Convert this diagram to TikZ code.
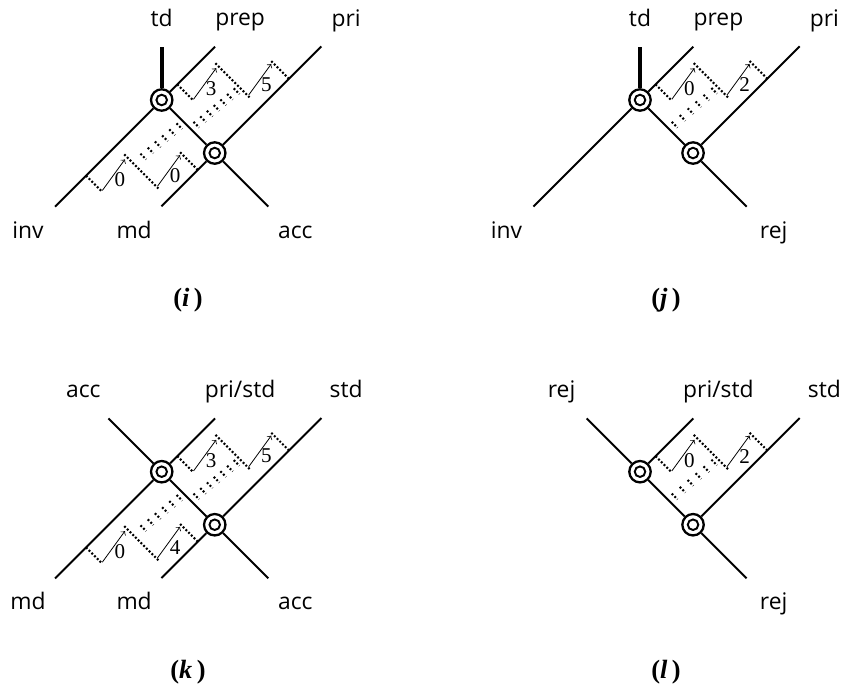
\documentclass[tikz,border=0pt]{standalone}
\usepackage{fontspec}
\newfontfamily\labelfont{Open Sans}
\newfontfamily\numfont{Liberation Serif}

% one zigzag: first rung at u=#2, step labels #3 and #4
\newcommand{\ladder}[4]{%
  \draw[rung] (#2,0) -- (#2,22);
  \draw[hop] ({#2+1},22) -- ({#2+39},16);
  \node[num] (#1a) at ({#2+21},27) {#3};
  \draw[rung] ({#2+42},12) -- ({#2+42},61);
  \draw[hop] ({#2+43},58) -- ({#2+81},52);
  \node[num] (#1b) at ({#2+63},63) {#4};
  \draw[rung] ({#2+83},50) -- ({#2+83},75);
}
% row of short rungs
\newcommand{\rungrow}[4]{%
  \foreach \k in {0,...,#3}
    \draw[rung] ({#1+#4*\k},{#2-4+0.8*\k}) -- ++(0,8);
}

\begin{document}
\begin{tikzpicture}[x=0.02cm, y=-0.02cm,
    uv/.style={x={(0.014142cm,0.014142cm)}, y={(0.014142cm,-0.014142cm)}},
    wire/.style={line width=1.1pt},
    stem/.style={line width=2.3pt},
    vtx/.style={circle, draw, fill=white, line width=1.3pt, minimum size=12.2pt, inner sep=0pt,
      path picture={\draw[line width=1.1pt] (path picture bounding box.center) circle (3pt);
        \fill (path picture bounding box.center) circle (1.4pt);}},
    lbl/.style={font=\labelfont\fontsize{13}{15}\selectfont, inner sep=0pt, text height=0.75em, text depth=0.25em},
    num/.style={font=\numfont\fontsize{12}{14}\selectfont, inner sep=0pt},
    tag/.style={font=\numfont\bfseries\fontsize{15}{17}\selectfont, inner sep=0pt},
    rung/.style={line width=1.2pt, dash pattern=on 1.1pt off 1.1pt},
    hop/.style={->, line width=0.45pt}]
  \useasboundingbox (0,0) rectangle (844,688);

  % (i)
  \begin{scope}[shift={(161.7,100)}, uv]
    \node[vtx] (iA) at (0,0) {};
    \node[vtx] (iB) at (0,75) {};
    \coordinate (iL1) at (-150.8,0);
    \coordinate (iU1) at (75.4,0);
    \coordinate (iL2) at (-75.4,75);
    \coordinate (iU2) at (150.8,75);
    \coordinate (iD) at (0,150.8);
    \coordinate (iT) at (37.7,-37.7);
    \node[lbl] (itd) at (55.4,-55.4) {td};
    \node[lbl] (iprep) at (110.9,0) {prep};
    \node[lbl] (ipri) at (185.8,75) {pri};
    \node[lbl] (iinv) at (-189,0) {inv};
    \node[lbl] (imd) at (-114,75) {md};
    \node[lbl] (iacc) at (0,189) {acc};
    \draw[wire] (iL1) -- (iA) -- (iU1);
    \draw[wire] (iL2) -- (iB) -- (iU2);
    \draw[wire] (iA) -- (iB) -- (iD);
    \draw[stem] (iA) -- (iT);
    \ladder{ilo}{-107}{0}{0}
    \ladder{ihi}{22}{3}{5}
    \rungrow{-53}{27}{5}{9.4}
    \rungrow{7}{42}{6}{8.7}
  \end{scope}
  \node[tag] (itag) at (188,300) {(\textit{i}\,)};

  % (j)
  \begin{scope}[shift={(640,100)}, uv]
    \node[vtx] (jA) at (0,0) {};
    \node[vtx] (jB) at (0,75) {};
    \coordinate (jL1) at (-150.8,0);
    \coordinate (jU1) at (75.4,0);
    \coordinate (jU2) at (150.8,75);
    \coordinate (jD) at (0,150.8);
    \coordinate (jT) at (37.7,-37.7);
    \node[lbl] (jtd) at (55.4,-55.4) {td};
    \node[lbl] (jprep) at (110.9,0) {prep};
    \node[lbl] (jpri) at (185.8,75) {pri};
    \node[lbl] (jinv) at (-189,0) {inv};
    \node[lbl] (jrej) at (0,189) {rej};
    \draw[wire] (jL1) -- (jA) -- (jU1);
    \draw[wire] (jB) -- (jU2);
    \draw[wire] (jA) -- (jB) -- (jD);
    \draw[stem] (jA) -- (jT);
    \ladder{jhi}{22}{0}{2}
    \rungrow{7}{42}{5}{10.4}
  \end{scope}
  \node[tag] (jtag) at (666,300) {(\textit{j}\,)};

  % (k)
  \begin{scope}[shift={(161.7,471.7)}, uv]
    \node[vtx] (kA) at (0,0) {};
    \node[vtx] (kB) at (0,75) {};
    \coordinate (kL1) at (-150.8,0);
    \coordinate (kU1) at (75.4,0);
    \coordinate (kL2) at (-75.4,75);
    \coordinate (kU2) at (150.8,75);
    \coordinate (kC) at (0,-75.4);
    \coordinate (kD) at (0,150.8);
    \node[lbl] (kacc) at (0,-110.9) {acc};
    \node[lbl] (kps) at (110.9,0) {pri/std};
    \node[lbl] (kstd) at (185.8,75) {std};
    \node[lbl] (kmd) at (-189,0) {md};
    \node[lbl] (kmdb) at (-114,75) {md};
    \node[lbl] (kaccb) at (0,189) {acc};
    \draw[wire] (kL1) -- (kA) -- (kU1);
    \draw[wire] (kL2) -- (kB) -- (kU2);
    \draw[wire] (kC) -- (kA) -- (kB) -- (kD);
    \ladder{klo}{-107}{0}{4}
    \ladder{khi}{22}{3}{5}
    \rungrow{-53}{27}{5}{9.4}
    \rungrow{7}{42}{6}{8.7}
  \end{scope}
  \node[tag] (ktag) at (188,672) {(\textit{k}\,)};

  % (l)
  \begin{scope}[shift={(640,471.7)}, uv]
    \node[vtx] (lA) at (0,0) {};
    \node[vtx] (lB) at (0,75) {};
    \coordinate (lU1) at (75.4,0);
    \coordinate (lU2) at (150.8,75);
    \coordinate (lC) at (0,-75.4);
    \coordinate (lD) at (0,150.8);
    \node[lbl] (lrej) at (0,-110.9) {rej};
    \node[lbl] (lps) at (110.9,0) {pri/std};
    \node[lbl] (lstd) at (185.8,75) {std};
    \node[lbl] (lrejb) at (0,189) {rej};
    \draw[wire] (lA) -- (lU1);
    \draw[wire] (lB) -- (lU2);
    \draw[wire] (lC) -- (lA) -- (lB) -- (lD);
    \ladder{lhi}{22}{0}{2}
    \rungrow{7}{42}{5}{10.4}
  \end{scope}
  \node[tag] (ltag) at (666,672) {(\textit{l}\,)};
\end{tikzpicture}
\end{document}
